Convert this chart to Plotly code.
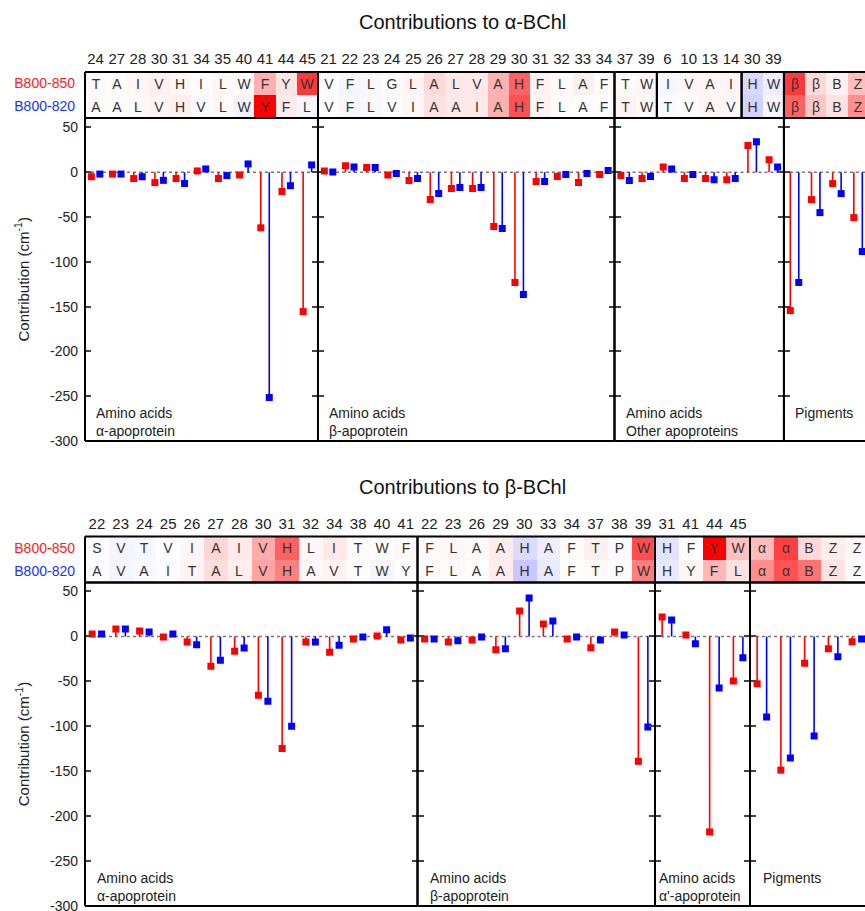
import plotly.graph_objects as go

FONT = "Liberation Sans"
W, H = 865, 911
ML = 85
PLOT_W = W - ML

RED = "#ff0000"
BLUE = "#0000ff"

# ---------------- Data: contributions to alpha-BChl ----------------
TITLE_A = "Contributions to α-BChl"
A1_RES = [24, 27, 28, 30, 31, 34, 35, 40, 41, 44, 45]
A1_AA_850 = ["T", "A", "I", "V", "H", "I", "L", "W", "F", "Y", "W"]
A1_AA_820 = ["A", "A", "L", "V", "H", "V", "L", "W", "Y", "F", "L"]
A1_850 = [-5, -2, -7, -11.5, -7, 1.5, -7, -3, -62, -21.5, -155.5]
A1_820 = [-2, -2, -5, -9, -12.5, 3.7, -3.7, 9.3, -251.5, -15, 8.2]

A2_RES = [21, 22, 23, 24, 25, 26, 27, 28, 29, 30, 31, 32, 33, 34]
A2_AA_850 = ["V", "F", "L", "G", "L", "A", "L", "V", "A", "H", "F", "L", "A", "F"]
A2_AA_820 = ["V", "F", "L", "V", "I", "A", "A", "I", "A", "H", "F", "L", "A", "F"]
A2_850 = [1.5, 7.4, 5.2, -3, -9.3, -30.5, -18.2, -18.2, -60.6, -123, -10.4, -4.8, -11.5, -2.6]
A2_820 = [0.4, 6, 5.2, -1.5, -7, -23.8, -17.1, -17.1, -62.9, -136.5, -10.4, -2.6, -1.5, 1.9]

A3A_RES = [37, 39]
A3A_AA_850 = ["T", "W"]
A3A_AA_820 = ["T", "W"]
A3A_850 = [-3.7, -7]
A3A_820 = [-9.3, -4.8]

A3B_RES = [6, 10, 13, 14]
A3B_AA_850 = ["I", "V", "A", "I"]
A3B_AA_820 = ["T", "V", "A", "V"]
A3B_850 = [6, -7, -7, -8.2]
A3B_820 = [3.7, -2.6, -8.2, -7]

A3C_RES = [30, 39]
A3C_AA_850 = ["H", "W"]
A3C_AA_820 = ["H", "W"]
A3C_850 = [29.8, 14.1]
A3C_820 = [34.2, 6]

A4_PIG = ["β", "β", "B", "Z"]
A4_850 = [-154.4, -30.5, -12.6, -50.6]
A4_820 = [-123, -45, -23.8, -88.5]

# ---------------- Data: contributions to beta-BChl ----------------
TITLE_B = "Contributions to β-BChl"
B1_RES = [22, 23, 24, 25, 26, 27, 28, 30, 31, 32, 34, 38, 40, 41]
B1_AA_850 = ["S", "V", "T", "V", "I", "A", "I", "V", "H", "L", "I", "T", "W", "F"]
B1_AA_820 = ["A", "V", "A", "I", "T", "A", "L", "V", "H", "A", "V", "T", "W", "Y"]
B1_850 = [2.6, 8.2, 6, -0.7, -6.3, -33.1, -16.4, -65.5, -124.6, -6.3, -17.5, -3, 0.4, -4]
B1_820 = [2.6, 8.2, 4.8, 2.6, -9.3, -26.4, -13, -72.2, -100, -6.3, -9.7, -0.7, 7.5, -1.9]

B2_RES = [22, 23, 26, 29, 30, 33, 34, 37, 38, 39]
B2_AA_850 = ["F", "L", "A", "A", "H", "A", "F", "T", "P", "W"]
B2_AA_820 = ["F", "L", "A", "A", "H", "A", "F", "T", "P", "W"]
B2_850 = [-3, -6.3, -4, -14.9, 28.3, 13.8, -3, -12.6, 4.8, -139]
B2_820 = [-3, -4.8, -0.7, -13.8, 42.8, 17.1, -0.7, -4, 1.5, -100.8]

B3_RES = [31, 41, 44, 45]
B3_AA_850 = ["H", "F", "Y", "W"]
B3_AA_820 = ["H", "Y", "F", "L"]
B3_850 = [21.6, 1.5, -217.6, -49.5]
B3_820 = [18.2, -8.2, -57.3, -23.8]

B4_PIG = ["α", "α", "B", "Z", "Z"]
B4_850 = [-52.8, -148.8, -29.8, -13.8, -6]
B4_820 = [-89.7, -135.4, -110.9, -22.7, -3]

Y_TICKS = [50, 0, -50, -100, -150, -200, -250, -300]
Y_TICK_TEXT = ["50", "0", "-50", "-100", "-150", "-200", "-250", "-300"]
ROW_LABELS = ["B800-850", "B800-820"]

# ---------------- Layout specification ----------------
PANELS = [
    dict(title=TITLE_A, title_y=22, colw=21.18, header=(72, 118), plot=(118, 441),
         yrange=[-300, 60.6],
         sections=[
             dict(label="Amino acids<br>α-apoprotein", xshift=9, yshift=0,
                  groups=[(A1_RES, A1_AA_850, A1_AA_820, A1_850, A1_820)]),
             dict(label="Amino acids<br>β-apoprotein", xshift=9, yshift=0,
                  groups=[(A2_RES, A2_AA_850, A2_AA_820, A2_850, A2_820)]),
             dict(label="Amino acids<br>Other apoproteins", xshift=9, yshift=0,
                  groups=[(A3A_RES, A3A_AA_850, A3A_AA_820, A3A_850, A3A_820),
                          (A3B_RES, A3B_AA_850, A3B_AA_820, A3B_850, A3B_820),
                          (A3C_RES, A3C_AA_850, A3C_AA_820, A3C_850, A3C_820)]),
             dict(label="Pigments", xshift=9, yshift=18,
                  groups=[(None, A4_PIG, A4_PIG, A4_850, A4_820)]),
         ]),
    dict(title=TITLE_B, title_y=487, colw=23.75, header=(536.5, 582.5), plot=(582.5, 906),
         yrange=[-300, 60],
         sections=[
             dict(label="Amino acids<br>α-apoprotein", xshift=10, yshift=0,
                  groups=[(B1_RES, B1_AA_850, B1_AA_820, B1_850, B1_820)]),
             dict(label="Amino acids<br>β-apoprotein", xshift=10, yshift=0,
                  groups=[(B2_RES, B2_AA_850, B2_AA_820, B2_850, B2_820)]),
             dict(label="Amino acids<br>α'-apoprotein", xshift=2, yshift=0,
                  groups=[(B3_RES, B3_AA_850, B3_AA_820, B3_850, B3_820)]),
             dict(label="Pigments", xshift=11, yshift=18,
                  groups=[(None, B4_PIG, B4_PIG, B4_850, B4_820)]),
         ]),
]

OFFSET = 0.2  # horizontal offset of the two series within a column
FRAME = dict(color="black", width=2)


def py(px):
    return 1 - px / H


fig = go.Figure()
layout = {}
shapes = []
annotations = []
counter = [0]


def new_axes():
    counter[0] += 1
    n = counter[0]
    return "" if n == 1 else str(n)


def frame(s, right=True):
    xr, yr = "x" + s + " domain", "y" + s + " domain"
    sides = [(0, 0, 0, 1), (0, 1, 1, 1), (0, 1, 0, 0)]
    if right:
        sides.append((1, 1, 0, 1))
    for x0, x1, y0, y1 in sides:
        shapes.append(dict(type="line", xref=xr, yref=yr, x0=x0, x1=x1, y0=y0, y1=y1,
                           layer="above", line=FRAME))


text_font = dict(family=FONT, size=14, color="#222")
colorscale = [[0, "rgb(255,0,0)"], [0.5, "rgb(255,255,255)"], [1, "rgb(0,0,255)"]]

for panel in PANELS:
    colw = panel["colw"]
    hb_top, hb_bot = panel["header"]
    pl_top, pl_bot = panel["plot"]
    start = 0
    nsec = len(panel["sections"])
    annotations.append(dict(text=panel["title"], xref="paper", yref="paper",
                            x=(462 - ML) / PLOT_W, y=py(panel["title_y"]),
                            xanchor="center", yanchor="middle", showarrow=False,
                            font=dict(family=FONT, size=20, color="#111")))
    for si, sec in enumerate(panel["sections"]):
        last = si == nsec - 1
        n_sec = sum(len(g[1]) for g in sec["groups"])
        x0 = start * colw / PLOT_W
        x1 = min((start + n_sec) * colw / PLOT_W, 1.0)
        r_end = x1 * PLOT_W / colw - start - 0.5
        s = new_axes()
        layout["xaxis" + s] = dict(domain=[x0, x1], range=[-0.5, r_end], anchor="y" + s,
                                   showline=False, showticklabels=False, ticks="",
                                   showgrid=False, zeroline=False, fixedrange=True,
                                   automargin=False)
        layout["yaxis" + s] = dict(domain=[py(pl_bot), py(pl_top)], range=panel["yrange"],
                                   anchor="x" + s, tickvals=Y_TICKS, ticktext=Y_TICK_TEXT,
                                   ticks="inside", ticklen=6, tickwidth=1.5, tickcolor="#444",
                                   mirror=(False if last else "allticks"),
                                   showline=False, showgrid=False, zeroline=False,
                                   showticklabels=(si == 0), tickfont=text_font,
                                   ticklabelstandoff=6, ticklabeloverflow="allow",
                                   fixedrange=True, automargin=False)
        frame(s, right=not last)
        v850 = [v for g in sec["groups"] for v in g[3]]
        v820 = [v for g in sec["groups"] for v in g[4]]
        idx = list(range(n_sec))
        for vals, col, off in ((v850, RED, -OFFSET), (v820, BLUE, OFFSET)):
            fig.add_trace(go.Scatter(
                x=[i + off for i in idx], y=vals, mode="markers",
                xaxis="x" + s, yaxis="y" + s, showlegend=False,
                marker=dict(symbol="square", size=7, color=col),
                error_y=dict(type="data", symmetric=False,
                             array=[max(-v, 0) for v in vals],
                             arrayminus=[max(v, 0) for v in vals],
                             width=0, thickness=1.6, color=col)))
        shapes.append(dict(type="line", xref="x" + s + " domain", yref="y" + s,
                           x0=0, x1=1, y0=0, y1=0, layer="below",
                           line=dict(color="#777", width=1.5, dash="dot")))
        annotations.append(dict(text=sec["label"], xref="x" + s + " domain",
                                yref="y" + s + " domain", x=0, y=0,
                                xanchor="left", yanchor="bottom", align="left",
                                xshift=sec["xshift"], yshift=sec["yshift"],
                                showarrow=False, font=text_font))
        if si == 0:
            annotations.append(dict(text="Contribution (cm<sup>-1</sup>)", xref="paper",
                                    yref="y" + s + " domain", x=(22 - ML) / PLOT_W, y=0.5,
                                    xanchor="center", yanchor="middle", textangle=-90,
                                    showarrow=False,
                                    font=dict(family=FONT, size=15, color="#222")))
        # header groups
        gstart = 0
        for gi, (res, aa850, aa820, g850, g820) in enumerate(sec["groups"]):
            ng = len(aa850)
            hs = new_axes()
            hx0 = (start + gstart) * colw / PLOT_W
            hx1 = min((start + gstart + ng) * colw / PLOT_W, 1.0)
            gidx = list(range(gstart, gstart + ng))
            layout["xaxis" + hs] = dict(domain=[hx0, hx1],
                                        range=[gstart - 0.5, hx1 * PLOT_W / colw - start - 0.5],
                                        anchor="y" + hs, side="top",
                                        tickvals=gidx if res else [],
                                        ticktext=[str(r) for r in res] if res else [],
                                        showline=False, ticks="", showgrid=False, zeroline=False,
                                        tickfont=dict(family=FONT, size=15, color="#222"),
                                        ticklabelstandoff=4, fixedrange=True, automargin=False)
            first = si == 0 and gi == 0
            layout["yaxis" + hs] = dict(domain=[py(hb_bot), py(hb_top)], range=[-0.5, 1.5],
                                        anchor="x" + hs, tickvals=[0, 1],
                                        ticktext=['<span style="color:#2030ff">%s</span>' % ROW_LABELS[1],
                                                  '<span style="color:#ff2020">%s</span>' % ROW_LABELS[0]],
                                        showticklabels=first, ticks="",
                                        showline=False, showgrid=False, zeroline=False,
                                        tickfont=dict(family=FONT, size=14),
                                        ticklabelstandoff=9, fixedrange=True, automargin=False)
            frame(hs, right=not (last and gi == len(sec["groups"]) - 1))
            fig.add_trace(go.Heatmap(
                x=gidx, y=[0, 1], z=[g820, g850], text=[aa820, aa850],
                texttemplate="%{text}", textfont=dict(family=FONT, size=14, color="#333"),
                colorscale=colorscale, zmin=-200, zmax=200, showscale=False,
                xaxis="x" + hs, yaxis="y" + hs, hoverinfo="skip"))
            gstart += ng
        start += n_sec

fig.update_layout(
    width=W, height=H,
    margin=dict(l=ML, r=0, t=0, b=0, autoexpand=False),
    paper_bgcolor="white", plot_bgcolor="white",
    font=dict(family=FONT, size=14, color="#222"),
    shapes=shapes, annotations=annotations,
    **layout,
)

fig.write_html("out.html", config={"displayModeBar": False},
               post_script="document.body.style.margin='0';")
